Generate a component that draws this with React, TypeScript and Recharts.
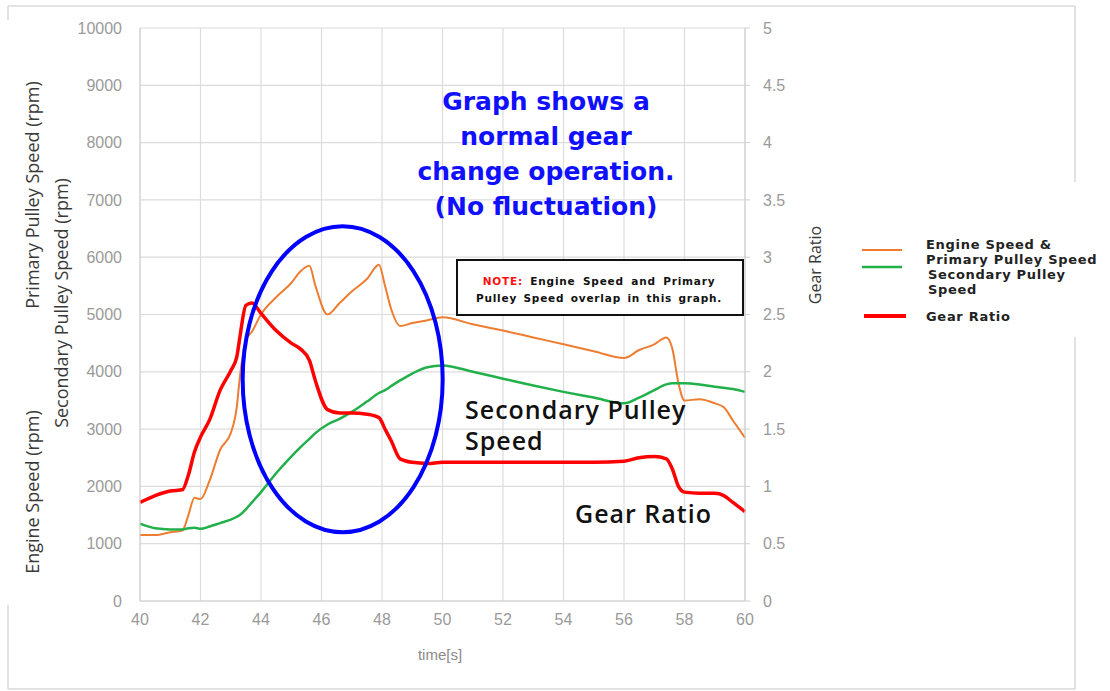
import { LineChart, Line, XAxis, YAxis, CartesianGrid, ReferenceDot } from 'recharts'

// time axis (s)
const times = [
  40, 40.5, 41, 41.4, 41.6, 41.8, 42, 42.3, 42.65, 43, 43.2, 43.3, 43.5, 43.7, 44, 44.5, 45, 45.3, 45.6,
  45.8, 46.2, 46.6, 47, 47.5, 47.9, 48.1, 48.3, 48.6, 49, 49.5, 50, 51, 52, 53, 54, 55, 56, 56.5, 57,
  57.4, 57.6, 57.8, 58, 58.5, 59, 59.3, 59.6, 60,
]

// engine speed & primary pulley speed (rpm)
const engineSpeed = [
  1150, 1150, 1200, 1230, 1500, 1800, 1780, 2100, 2640, 2930, 3390, 3900, 4550, 4700, 5000, 5300, 5550,
  5750, 5850, 5500, 5000, 5200, 5400, 5620, 5870, 5500, 5100, 4800, 4850, 4900, 4950, 4830, 4720, 4600,
  4480, 4360, 4240, 4380, 4480, 4600, 4400, 3800, 3500, 3520, 3450, 3380, 3150, 2850,
]

// secondary pulley speed (rpm)
const secondarySpeed = [
  1350, 1270, 1250, 1250, 1270, 1280, 1260, 1300, 1360, 1420, 1470, 1500, 1600, 1720, 1900, 2230, 2520,
  2680, 2830, 2930, 3080, 3180, 3300, 3480, 3630, 3680, 3750, 3850, 3970, 4080, 4110, 4000, 3880, 3760,
  3650, 3550, 3450, 3550, 3680, 3780, 3800, 3800, 3800, 3780, 3740, 3720, 3700, 3650,
]

// gear ratio
const gearRatio = [
  0.86, 0.92, 0.96, 0.97, 1.1, 1.3, 1.43, 1.58, 1.84, 2.01, 2.13, 2.3, 2.58, 2.6, 2.51, 2.36, 2.25,
  2.2, 2.1, 1.92, 1.67, 1.64, 1.64, 1.63, 1.6, 1.5, 1.4, 1.24, 1.21, 1.2, 1.21, 1.21, 1.21, 1.21,
  1.21, 1.21, 1.22, 1.25, 1.26, 1.24, 1.15, 1.0, 0.95, 0.94, 0.94, 0.92, 0.86, 0.78,
]

const xTicks = [40, 42, 44, 46, 48, 50, 52, 54, 56, 58, 60]
const rpmTicks = [0, 1000, 2000, 3000, 4000, 5000, 6000, 7000, 8000, 9000, 10000]
const ratioTicks = [0, 0.5, 1, 1.5, 2, 2.5, 3, 3.5, 4, 4.5, 5]

const data = times.map((t, i) => ({
  t,
  engine: engineSpeed[i],
  secondary: secondarySpeed[i],
  ratio: gearRatio[i],
}))

const tickStyle = { fontSize: 16, fill: '#9a9a9a', fontFamily: 'Liberation Sans, Arial, sans-serif' }
const titleFont = 'Open Sans, Liberation Sans, sans-serif'
const plainFont = 'Liberation Sans, Arial, sans-serif'
const wideBold = 'DejaVu Sans, Verdana, sans-serif'

export default function App() {
  return (
    <div style={{ position: 'absolute', left: 0, top: 0, width: 1110, height: 691, background: '#fff' }}>
      <LineChart
        width={1110}
        height={691}
        data={data}
        margin={{ top: 28, right: 305, bottom: 50, left: 0 }}
      >
        <CartesianGrid yAxisId="left" stroke="#dcdcdc" strokeWidth={1.2} />
        <XAxis
          dataKey="t"
          type="number"
          domain={[40, 60]}
          ticks={xTicks}
          height={40}
          stroke="#d0d0d0"
          tickLine={false}
          tickSize={0}
          tickMargin={13}
          tick={tickStyle}
        />
        <YAxis
          yAxisId="left"
          domain={[0, 10000]}
          ticks={rpmTicks}
          width={140}
          stroke="#d0d0d0"
          tickLine={false}
          tickSize={0}
          tickMargin={18}
          tick={tickStyle}
        />
        <YAxis
          yAxisId="right"
          orientation="right"
          domain={[0, 5]}
          ticks={ratioTicks}
          width={60}
          stroke="#d0d0d0"
          tickSize={5}
          tickMargin={13}
          tick={{ ...tickStyle, textAnchor: 'start' }}
        />
        <Line yAxisId="left" dataKey="engine" stroke="#ED7D31" strokeWidth={2} dot={false} type="monotone" isAnimationActive={false} />
        <Line yAxisId="left" dataKey="secondary" stroke="#22B04A" strokeWidth={2.5} dot={false} type="monotone" isAnimationActive={false} />
        <Line yAxisId="right" dataKey="ratio" stroke="#FF0000" strokeWidth={3.5} dot={false} type="monotone" isAnimationActive={false} />
        <ReferenceDot
          yAxisId="left"
          x={46.7}
          y={3870}
          ifOverflow="visible"
          shape={(p: any) => (
            <ellipse cx={p.cx} cy={p.cy} rx={100} ry={153} fill="none" stroke="#0000FF" strokeWidth={4} />
          )}
        />
      </LineChart>

      <svg width={1110} height={691} style={{ position: 'absolute', left: 0, top: 0, pointerEvents: 'none' }}>
        {/* frame */}
        <g stroke="#d9d9d9" strokeWidth={1.5}>
          <line x1={8} y1={6} x2={1075} y2={6} />
          <line x1={8} y1={689} x2={1075} y2={689} />
          <line x1={8} y1={6} x2={8} y2={20} />
          <line x1={8} y1={605} x2={8} y2={689} />
          <line x1={1075} y1={6} x2={1075} y2={182} />
          <line x1={1075} y1={337} x2={1075} y2={689} />
        </g>

        {/* axis titles */}
        <g fill="#3a3a3a" fontFamily={titleFont} fontSize={18} textAnchor="middle">
          <text transform="translate(39,195) rotate(-90)">Primary Pulley Speed (rpm)</text>
          <text transform="translate(68,303) rotate(-90)">Secondary Pulley Speed (rpm)</text>
          <text transform="translate(39,492) rotate(-90)">Engine Speed (rpm)</text>
          <text transform="translate(821,265) rotate(-90)" fontSize={16}>Gear Ratio</text>
        </g>
        <text x={440} y={660} textAnchor="middle" fontSize={15} fill="#8a8a8a" fontFamily={plainFont}>
          time[s]
        </text>

        {/* headline */}
        <g fill="#1010FF" fontFamily={wideBold} fontWeight="bold" fontSize={25} textAnchor="middle">
          <text x={546} y={110}>Graph shows a</text>
          <text x={546} y={145}>normal gear</text>
          <text x={546} y={180}>change operation.</text>
          <text x={546} y={215}>(No fluctuation)</text>
        </g>

        {/* note box */}
        <rect x={457} y={260} width={286} height={55} fill="#fff" stroke="#111" strokeWidth={2} />
        <g fontFamily={wideBold} fontWeight="bold" fontSize={10.5} letterSpacing={0.8} textAnchor="middle">
          <text x={599} y={285} fill="#111" wordSpacing={3}>
            <tspan fill="#FF1010">NOTE:</tspan> Engine Speed and Primary
          </text>
          <text x={599} y={302} fill="#111" wordSpacing={2}>Pulley Speed overlap in this graph.</text>
        </g>

        {/* in-plot labels */}
        <g fill="#111" fontFamily={titleFont} fontWeight={600} fontSize={25} letterSpacing={1}>
          <text x={465} y={419}>Secondary Pulley</text>
          <text x={465} y={450}>Speed</text>
          <text x={575} y={523}>Gear Ratio</text>
        </g>

        {/* legend */}
        <line x1={862} y1={250} x2={902} y2={250} stroke="#ED7D31" strokeWidth={2} />
        <line x1={862} y1={267} x2={902} y2={267} stroke="#22B04A" strokeWidth={2.5} />
        <line x1={864} y1={316} x2={906} y2={316} stroke="#FF0000" strokeWidth={4} />
        <g fill="#222" fontFamily={wideBold} fontWeight="bold" fontSize={13} letterSpacing={0.7}>
          <text x={926} y={249}>Engine Speed &amp;</text>
          <text x={926} y={264}>Primary Pulley Speed</text>
          <text x={928} y={279}>Secondary Pulley</text>
          <text x={928} y={294}>Speed</text>
          <text x={926} y={321}>Gear Ratio</text>
        </g>
      </svg>
    </div>
  )
}
